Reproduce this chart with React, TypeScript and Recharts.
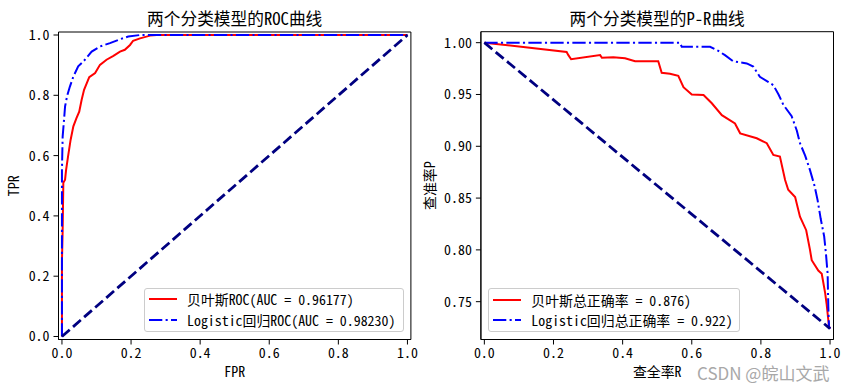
import React from "react";
import { LineChart, Line, XAxis, YAxis, ReferenceArea, Legend, Label } from "recharts";

const FONT = "'Noto Sans Mono CJK SC', 'Noto Sans CJK SC', 'DejaVu Sans', sans-serif";
const TICK = { fill: "#000", fontSize: 13.9, fontFamily: FONT };

// ROC curves
const bayesFpr = [0, 0, 0.002, 0.004, 0.009, 0.012, 0.018, 0.025, 0.033, 0.042, 0.05, 0.057, 0.064, 0.079, 0.096, 0.11, 0.129, 0.149, 0.168, 0.182, 0.197, 0.206, 0.226, 0.255, 0.274, 1];
const bayesTpr = [0, 0.25, 0.35, 0.51, 0.52, 0.553, 0.6, 0.652, 0.697, 0.724, 0.746, 0.785, 0.818, 0.86, 0.874, 0.901, 0.918, 0.931, 0.945, 0.951, 0.967, 0.981, 0.989, 0.998, 1, 1];
const logitFpr = [0, 0, 0.002, 0.006, 0.009, 0.015, 0.023, 0.033, 0.047, 0.062, 0.086, 0.11, 0.139, 0.168, 0.192, 0.226, 1];
const logitTpr = [0, 0.553, 0.663, 0.719, 0.763, 0.798, 0.829, 0.862, 0.896, 0.912, 0.945, 0.962, 0.973, 0.986, 0.995, 1, 1];
const rocDiagX = [0, 1];
const rocDiagY = [0, 1];

// P-R curves
const bayesRecall = [0, 0.238, 0.243, 0.251, 0.335, 0.34, 0.373, 0.407, 0.436, 0.503, 0.513, 0.537, 0.561, 0.576, 0.6, 0.634, 0.658, 0.687, 0.725, 0.74, 0.788, 0.817, 0.836, 0.855, 0.87, 0.879, 0.899, 0.913, 0.931, 0.942, 0.947, 0.966, 0.976, 0.986, 0.99, 0.997, 1];
const bayesPrecision = [1, 0.991, 0.988, 0.984, 0.988, 0.9855, 0.986, 0.985, 0.982, 0.982, 0.971, 0.97, 0.968, 0.957, 0.95, 0.9495, 0.9415, 0.93, 0.922, 0.9125, 0.9077, 0.903, 0.8916, 0.89, 0.8675, 0.858, 0.851, 0.832, 0.819, 0.8, 0.79, 0.78, 0.777, 0.758, 0.748, 0.726, 0.724];
const logitRecall = [0, 0.566, 0.571, 0.653, 0.677, 0.696, 0.72, 0.759, 0.778, 0.797, 0.822, 0.836, 0.851, 0.865, 0.889, 0.904, 0.913, 0.928, 0.942, 0.955, 0.964, 0.973, 0.983, 0.988, 0.993, 0.995, 0.997, 1];
const logitPrecision = [1, 1, 0.996, 0.996, 0.992, 0.988, 0.982, 0.98, 0.977, 0.967, 0.962, 0.959, 0.95, 0.94, 0.929, 0.915, 0.903, 0.891, 0.877, 0.862, 0.848, 0.83, 0.813, 0.797, 0.777, 0.745, 0.726, 0.724];
const prDiagX = [0, 1];
const prDiagY = [1, 0.724];

const unitTicks = [0, 0.2, 0.4, 0.6, 0.8, 1.0];
const prTicks = [0.75, 0.8, 0.85, 0.9, 0.95, 1.0];

const rocLabels = ["贝叶斯ROC(AUC = 0.96177)", "Logistic回归ROC(AUC = 0.98230)"];
const prLabels = ["贝叶斯总正确率 = 0.876)", "Logistic回归总正确率 = 0.922)"];

const zip = (xs: number[], ys: number[]) => xs.map((x, i) => ({ x, y: ys[i] }));

const DASHDOT = "13.3 3.3 2.1 3.3";
const DASHED = "10.3 4.4";

function LegendBox({ labels }: { labels: string[] }) {
  const styles = [
    { stroke: "#ff0000", dash: undefined },
    { stroke: "#0000ff", dash: DASHDOT },
  ];
  return (
    <div
      style={{
        boxSizing: "border-box",
        width: "100%",
        height: "100%",
        border: "1px solid #cccccc",
        borderRadius: 3,
        background: "rgba(255,255,255,0.8)",
        fontFamily: FONT,
        fontSize: 13.9,
        color: "#000",
      }}
    >
      {labels.map((l, i) => (
        <div key={i} style={{ display: "flex", alignItems: "center", height: 20.7, whiteSpace: "nowrap" }}>
          <svg width={39} height={10} style={{ marginLeft: 3 }}>
            <line x1={1} y1={5} x2={29} y2={5} stroke={styles[i].stroke} strokeWidth={2} strokeDasharray={styles[i].dash} />
          </svg>
          <span>{l}</span>
        </div>
      ))}
    </div>
  );
}

function Title({ text, cx }: { text: string; cx: number }) {
  return (
    <div
      style={{
        position: "absolute",
        top: 8,
        left: cx,
        transform: "translateX(-50%)",
        fontSize: 16.7,
        lineHeight: "20px",
        fontFamily: FONT,
        whiteSpace: "nowrap",
      }}
    >
      {text}
    </div>
  );
}

export default function App() {
  return (
    <div style={{ position: "relative", width: 850, height: 389, background: "#fff", fontFamily: FONT }}>
      <style>{`body{margin:0}`}</style>
      <div style={{ position: "absolute", left: 0, top: 0 }}>
        <LineChart width={420} height={389} margin={{ top: 32, right: 9.1, bottom: 4.5, left: 0 }}>
          <XAxis
            type="number"
            dataKey="x"
            domain={[-0.01, 1.01]}
            ticks={unitTicks}
            interval={0}
            tickFormatter={(v) => v.toFixed(1)}
            tick={TICK}
            tickSize={5}
            tickMargin={4}
            stroke="#000"
            height={45}
            allowDataOverflow
          >
            <Label value="FPR" position="insideBottom" offset={8} style={{ fontSize: 13.9, fontFamily: FONT, fill: "#000" }} />
          </XAxis>
          <YAxis
            type="number"
            dataKey="y"
            domain={[-0.01, 1.01]}
            ticks={unitTicks}
            interval={0}
            tickFormatter={(v) => v.toFixed(1)}
            tick={TICK}
            tickSize={5}
            tickMargin={4}
            stroke="#000"
            width={58.5}
            allowDataOverflow
          >
            <Label value="TPR" angle={-90} position="insideLeft" offset={14} style={{ textAnchor: "middle", fontSize: 13.9, fontFamily: FONT, fill: "#000" }} />
          </YAxis>
          <Line data={zip(bayesFpr, bayesTpr)} dataKey="y" type="linear" stroke="#ff0000" strokeWidth={2} dot={false} isAnimationActive={false} />
          <Line data={zip(logitFpr, logitTpr)} dataKey="y" type="linear" stroke="#0000ff" strokeWidth={2} strokeDasharray={DASHDOT} dot={false} isAnimationActive={false} />
          <Line data={zip(rocDiagX, rocDiagY)} dataKey="y" type="linear" stroke="#000080" strokeWidth={2.8} strokeDasharray={DASHED} dot={false} isAnimationActive={false} />
          <ReferenceArea x1={-0.01} x2={1.01} y1={-0.01} y2={1.01} fill="none" stroke="#000" strokeWidth={1} ifOverflow="visible" />
          <Legend
            layout="vertical"
            align="center"
            verticalAlign="middle"
            content={() => <LegendBox labels={rocLabels} />}
            wrapperStyle={{ left: 144, top: 288, width: 259.5, height: 44 }}
          />
        </LineChart>
        <Title text="两个分类模型的ROC曲线" cx={234.7} />
      </div>

      <div style={{ position: "absolute", left: 420, top: 0 }}>
        <LineChart width={430} height={389} margin={{ top: 31.7, right: 16.5, bottom: 4.5, left: 0 }}>
          <XAxis
            type="number"
            dataKey="x"
            domain={[-0.01, 1.01]}
            ticks={unitTicks}
            interval={0}
            tickFormatter={(v) => v.toFixed(1)}
            tick={TICK}
            tickSize={5}
            tickMargin={4}
            stroke="#000"
            height={45}
            allowDataOverflow
          >
            <Label value="查全率R" position="insideBottom" offset={8} style={{ fontSize: 13.9, fontFamily: FONT, fill: "#000" }} />
          </XAxis>
          <YAxis
            type="number"
            dataKey="y"
            domain={[0.7135, 1.0106]}
            ticks={prTicks}
            interval={0}
            tickFormatter={(v) => v.toFixed(2)}
            tick={TICK}
            tickSize={5}
            tickMargin={4}
            stroke="#000"
            width={60.9}
            allowDataOverflow
          >
            <Label value="查准率P" angle={-90} position="insideLeft" offset={10} style={{ textAnchor: "middle", fontSize: 13.9, fontFamily: FONT, fill: "#000" }} />
          </YAxis>
          <Line data={zip(bayesRecall, bayesPrecision)} dataKey="y" type="linear" stroke="#ff0000" strokeWidth={2} dot={false} isAnimationActive={false} />
          <Line data={zip(logitRecall, logitPrecision)} dataKey="y" type="linear" stroke="#0000ff" strokeWidth={2} strokeDasharray={DASHDOT} dot={false} isAnimationActive={false} />
          <Line data={zip(prDiagX, prDiagY)} dataKey="y" type="linear" stroke="#000080" strokeWidth={2.8} strokeDasharray={DASHED} dot={false} isAnimationActive={false} />
          <ReferenceArea x1={-0.01} x2={1.01} y1={0.7135} y2={1.0106} fill="none" stroke="#000" strokeWidth={1} ifOverflow="visible" />
          <Legend
            layout="vertical"
            align="center"
            verticalAlign="middle"
            content={() => <LegendBox labels={prLabels} />}
            wrapperStyle={{ left: 68.3, top: 288.3, width: 251.7, height: 43.4 }}
          />
        </LineChart>
        <Title text="两个分类模型的P-R曲线" cx={237.2} />
      </div>

      <div
        style={{
          position: "absolute",
          left: 697,
          top: 364,
          fontFamily: "'Noto Sans CJK SC', sans-serif",
          fontSize: 17,
          lineHeight: "17px",
          color: "#a8a8a8",
          whiteSpace: "nowrap",
        }}
      >
        CSDN @皖山文武
      </div>
    </div>
  );
}
